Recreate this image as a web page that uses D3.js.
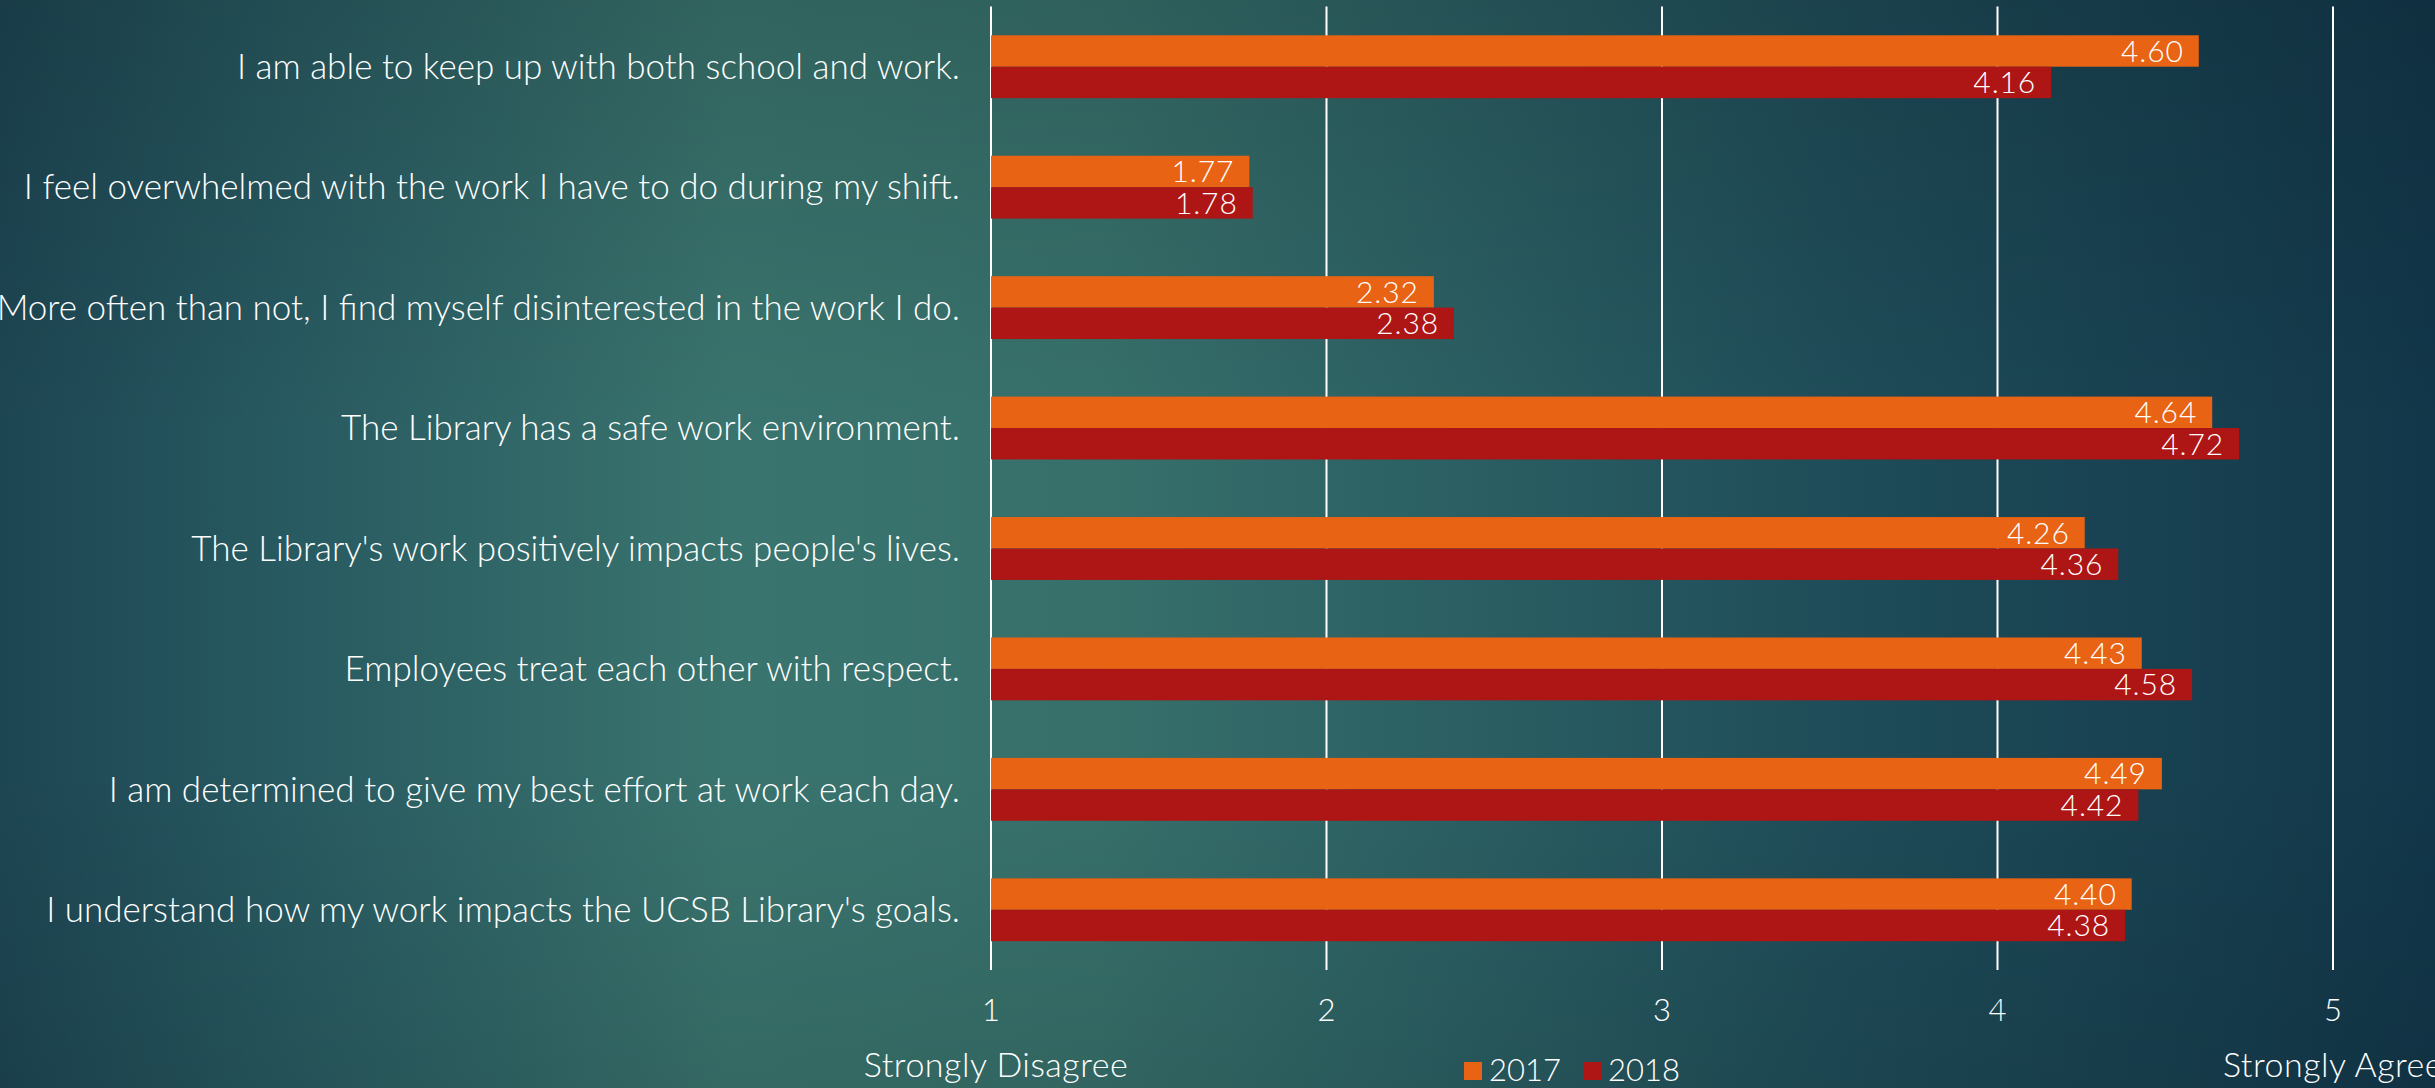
<!DOCTYPE html>
<html>
<head>
<meta charset="utf-8">
<script src="https://cdn.jsdelivr.net/npm/d3@7"></script>
<style>
  html, body { margin: 0; padding: 0; overflow: hidden; background: #1d4853; }
  svg { display: block; }
  text { font-family: "Lato", "Open Sans", sans-serif; fill: #ffffff; }
</style>
</head>
<body>
<svg id="chart" width="2435" height="1088"></svg>
<script>
const categories = [
  "I am able to keep up with both school and work.",
  "I feel overwhelmed with the work I have to do during my shift.",
  "More often than not, I find myself disinterested in the work I do.",
  "The Library has a safe work environment.",
  "The Library's work positively impacts people's lives.",
  "Employees treat each other with respect.",
  "I am determined to give my best effort at work each day.",
  "I understand how my work impacts the UCSB Library's goals."
];
const seriesNames = ["2017", "2018"];
const values2017 = [4.60, 1.77, 2.32, 4.64, 4.26, 4.43, 4.49, 4.40];
const values2018 = [4.16, 1.78, 2.38, 4.72, 4.36, 4.58, 4.42, 4.38];
const tickValues = [1, 2, 3, 4, 5];
const axisEndLabels = ["Strongly Disagree", "Strongly Agree"];
const colors = ["#E86313", "#AE1515"];

const W = 2435, H = 1088;
const svg = d3.select("#chart");

// background gradients
const defs = svg.append("defs");
const gh = defs.append("linearGradient").attr("id", "bgH").attr("x1", "0").attr("x2", "1").attr("y1", "0").attr("y2", "0");
[[0, "#1d4653"], [0.12, "#285a61"], [0.3, "#3a746e"], [0.45, "#37706b"], [0.6, "#2b5f63"], [0.75, "#1f4d59"], [1, "#12374a"]]
  .forEach(([o, c]) => gh.append("stop").attr("offset", o).attr("stop-color", c));
const gv = defs.append("linearGradient").attr("id", "bgV").attr("x1", "0").attr("x2", "0").attr("y1", "0").attr("y2", "1");
[[0, "#000", 0.14], [0.4, "#000", 0], [0.7, "#000", 0.0], [1, "#000", 0.1]]
  .forEach(([o, c, a]) => gv.append("stop").attr("offset", o).attr("stop-color", c).attr("stop-opacity", a));
svg.append("rect").attr("width", W).attr("height", H).attr("fill", "url(#bgH)");
svg.append("rect").attr("width", W).attr("height", H).attr("fill", "url(#bgV)");

const plot = { left: 991, right: 2333, top: 6.5, bottom: 970 };

const x = d3.scaleLinear().domain([1, 5]).range([plot.left, plot.right]);
const y = d3.scaleBand().domain(categories).range([plot.top, plot.bottom])
  .paddingInner(0.478).paddingOuter(0.239);
const ySub = d3.scaleBand().domain(seriesNames).range([0, y.bandwidth()]);

// gridlines
svg.append("g").selectAll("line").data(tickValues).join("line")
  .attr("x1", d => x(d)).attr("x2", d => x(d))
  .attr("y1", plot.top).attr("y2", plot.bottom)
  .attr("stroke", "#ffffff").attr("stroke-width", 2);

// tick labels
svg.append("g").selectAll("text").data(tickValues).join("text")
  .attr("x", d => x(d)).attr("y", 1021)
  .attr("text-anchor", "middle").attr("font-size", 31).attr("font-weight", 300)
  .text(d => d);

// axis end labels
svg.append("g").selectAll("text").data(axisEndLabels).join("text")
  .attr("x", (d, i) => x(tickValues[i === 0 ? 0 : tickValues.length - 1]) + (i === 0 ? 5 : 0))
  .attr("y", 1077)
  .attr("text-anchor", "middle").attr("font-size", 34).attr("font-weight", 300)
  .attr("letter-spacing", 0.5)
  .text(d => d);

// category labels
svg.append("g").selectAll("text").data(categories).join("text")
  .attr("x", plot.left - 31)
  .attr("y", d => y(d) + y.bandwidth() / 2)
  .attr("dy", "0.35em")
  .attr("text-anchor", "end").attr("font-size", 35).attr("font-weight", 300)
  .text(d => d);

// bars
const rows = categories.map((c, i) => ({ cat: c, vals: [values2017[i], values2018[i]] }));
const groups = svg.append("g").selectAll("g").data(rows).join("g")
  .attr("transform", d => `translate(0,${y(d.cat)})`);

groups.selectAll("rect").data(d => d.vals.map((v, j) => ({ v, s: seriesNames[j], j }))).join("rect")
  .attr("x", x(1))
  .attr("y", d => ySub(d.s))
  .attr("width", d => x(d.v) - x(1))
  .attr("height", ySub.bandwidth())
  .attr("fill", d => colors[d.j]);

groups.selectAll("text").data(d => d.vals.map((v, j) => ({ v, s: seriesNames[j], j }))).join("text")
  .attr("x", d => x(d.v) - 15)
  .attr("y", d => ySub(d.s) + ySub.bandwidth() / 2)
  .attr("dy", "0.36em")
  .attr("text-anchor", "end").attr("font-size", 30).attr("font-weight", 300)
  .attr("letter-spacing", 0.9)
  .text(d => d3.format(".2f")(d.v));

// legend
const legend = svg.append("g").attr("transform", "translate(1464,1062)");
const legItems = legend.selectAll("g").data(seriesNames).join("g")
  .attr("transform", (d, i) => `translate(${i * 119},0)`);
legItems.append("rect").attr("width", 18).attr("height", 18).attr("fill", (d, i) => colors[i]);
legItems.append("text").attr("x", 25).attr("y", 19)
  .attr("font-size", 31).attr("font-weight", 300).text(d => d);
</script>
</body>
</html>
